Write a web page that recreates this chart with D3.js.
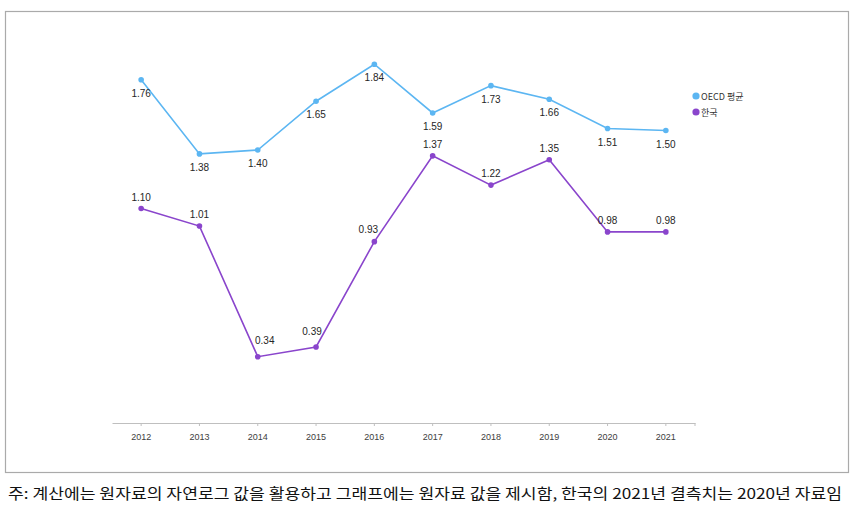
<!DOCTYPE html>
<html><head><meta charset="utf-8">
<script src="https://cdn.jsdelivr.net/npm/d3@7"></script>
<style>body{margin:0;background:#fff}svg{display:block}</style>
</head><body><svg id="c" width="864" height="518"></svg>
<script>
const years = ["2012","2013","2014","2015","2016","2017","2018","2019","2020","2021"];
const oecd = [1.76,1.38,1.40,1.65,1.84,1.59,1.73,1.66,1.51,1.50];
const korea = [1.10,1.01,0.34,0.39,0.93,1.37,1.22,1.35,0.98,0.98];
const seriesNames = ["OECD 평균","한국"];
const colors = ["#5cb6f2","#8a45cc"];
const note = "주: 계산에는 원자료의 자연로그 값을 활용하고 그래프에는 원자료 값을 제시함, 한국의 2021년 결측치는 2020년 자료임";

const svg = d3.select("#c");
svg.append("rect").attr("x",5.5).attr("y",11.5).attr("width",843).attr("height",461)
  .attr("fill","none").attr("stroke","#aaaaaa").attr("stroke-width",1.2);

const x = d3.scaleBand().domain(years).range([112,695]);
const cx = d => x(d)+x.bandwidth()/2;
const y = d3.scaleLinear().domain([0,2]).range([423,33]);

const axis = d3.axisBottom(x).tickSize(3).tickSizeOuter(0);
const g = svg.append("g").attr("transform","translate(0,423)").call(axis);
g.select(".domain").attr("stroke","#bfbfbf");
g.selectAll(".tick line").attr("stroke","#bfbfbf");
g.selectAll(".tick text").attr("font-family","'Liberation Sans', sans-serif").attr("font-size",9).attr("fill","#404040").attr("dy","1.2em");
svg.append("line").attr("x1",695).attr("x2",695).attr("y1",423).attr("y2",426).attr("stroke","#bfbfbf");

// label placement nudges (styling only): [dx, dy] per series point
const nudges = [
  years.map(()=>[0,17]),
  [[0,-8],[0,-8],[7,-13],[-4,-12],[-6,-9],[0,-8],[0,-8],[0,-8],[0,-8],[0,-8]]
];

const sets = [oecd, korea];
sets.forEach((vals,i)=>{
  const line = d3.line().x((d,j)=>cx(years[j])).y(d=>y(d));
  svg.append("path").datum(vals).attr("d",line).attr("fill","none").attr("stroke",colors[i]).attr("stroke-width",1.6);
  svg.selectAll(null).data(vals).enter().append("circle")
    .attr("cx",(d,j)=>cx(years[j])).attr("cy",d=>y(d)).attr("r",2.8).attr("fill",colors[i]);
  svg.selectAll(null).data(vals).enter().append("text")
    .attr("x",(d,j)=>cx(years[j])+nudges[i][j][0]).attr("y",(d,j)=>y(d)+nudges[i][j][1])
    .attr("text-anchor","middle").attr("font-family","'Liberation Sans', sans-serif").attr("font-size",10).attr("fill","#262626")
    .text(d=>d.toFixed(2));
});

seriesNames.forEach((n,i)=>{
  const ly = 96 + i*16;
  svg.append("circle").attr("cx",696).attr("cy",ly).attr("r",3.6).attr("fill",colors[i]);
  svg.append("text").attr("x",701).attr("y",ly+3.5).attr("font-family","'Noto Sans CJK KR', sans-serif").attr("font-size",9).attr("fill","#333").text(n);
});

svg.append("text").attr("x",8).attr("y",499).attr("font-family","'Noto Sans CJK KR', sans-serif")
  .attr("font-size",14.5).attr("fill","#111").attr("textLength",834).attr("lengthAdjust","spacingAndGlyphs").text(note);
</script></body></html>
